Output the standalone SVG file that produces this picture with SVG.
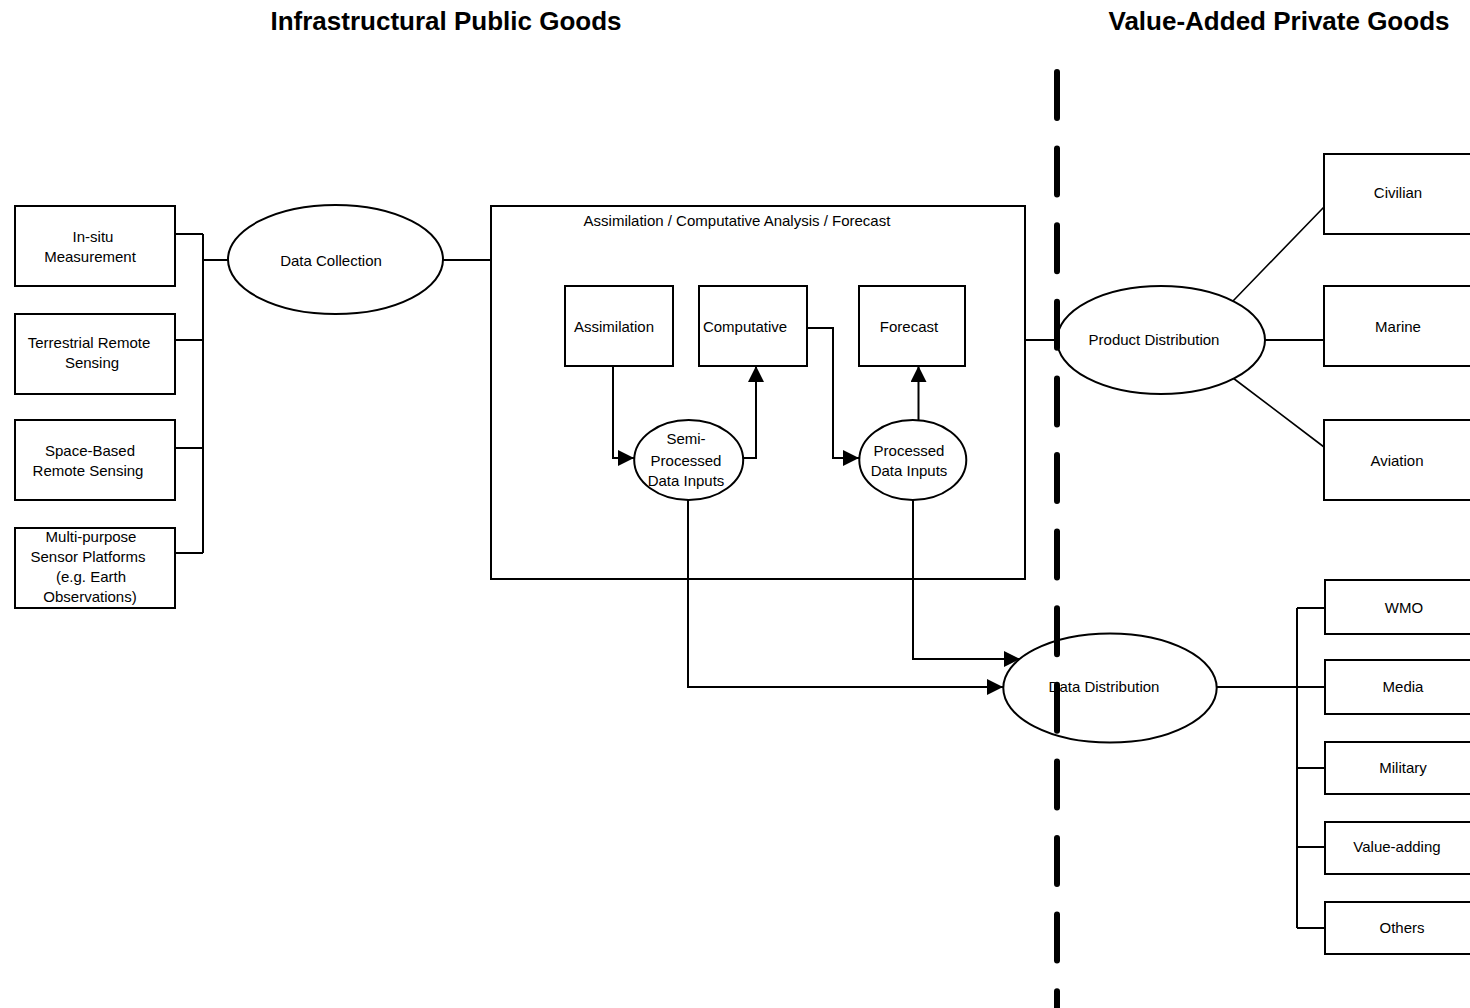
<svg xmlns="http://www.w3.org/2000/svg" width="1470" height="1008" viewBox="0 0 1470 1008">
<defs>
<marker id="arr" viewBox="0 0 16 16" refX="16" refY="8" markerWidth="16" markerHeight="16" markerUnits="userSpaceOnUse" orient="auto"><path d="M0,0 L16,8 L0,16 z" fill="#000"/></marker>
<style>
.box{fill:#fff;stroke:#000;stroke-width:2}
.ell{fill:#fff;stroke:#000;stroke-width:2}
.c{fill:none;stroke:#000;stroke-width:2}
.d{fill:none;stroke:#000;stroke-width:1.6}
text{font-family:"Liberation Sans",Arial,sans-serif;font-size:15px;fill:#000;text-anchor:middle}
.title{font-size:26px;font-weight:bold}
.divider{fill:none;stroke:#000;stroke-width:6;stroke-linecap:round;stroke-dasharray:46 30.6}
</style>
</defs>
<rect width="1470" height="1008" fill="#fff"/>

<text class="title" x="446" y="30">Infrastructural Public Goods</text>
<text class="title" x="1279" y="30">Value-Added Private Goods</text>

<g id="connectors">
<path class="c" d="M175,234 H203 M175,340 H203 M175,448 H203 M175,553 H203 M203,234 V553 M203,260 H228"/>
<path class="c" d="M443,260 H491"/>
<path class="c" d="M1025,340 H1057"/>
<path class="c" d="M613,366 V458 H634" marker-end="url(#arr)"/>
<path class="c" d="M743,458 H756 V366" marker-end="url(#arr)"/>
<path class="c" d="M807,328 H833 V458 H859" marker-end="url(#arr)"/>
<path class="c" d="M918.5,420 V366" marker-end="url(#arr)"/>
<path class="c" d="M688,500 V687 H1003" marker-end="url(#arr)"/>
<path class="c" d="M913,500 V659 H1020" marker-end="url(#arr)"/>
<path class="d" d="M1233,301 L1324,207 M1233,378 L1324,447"/>
<path class="c" d="M1265,340 H1324"/>
<path class="c" d="M1217,687 H1297 M1297,608 V928 M1297,608 H1325 M1297,687 H1325 M1297,768 H1325 M1297,847 H1325 M1297,928 H1325"/>
</g>

<g id="n-insitu"><rect class="box" x="15" y="206" width="160" height="80"/><text x="93" y="242">In-situ</text><text x="90" y="262">Measurement</text></g>
<g id="n-terrestrial"><rect class="box" x="15" y="314" width="160" height="80"/><text x="89" y="348">Terrestrial Remote</text><text x="92" y="368">Sensing</text></g>
<g id="n-space"><rect class="box" x="15" y="420" width="160" height="80"/><text x="90" y="456">Space-Based</text><text x="88" y="476">Remote Sensing</text></g>
<g id="n-multi"><rect class="box" x="15" y="528" width="160" height="80"/><text x="91" y="542">Multi-purpose</text><text x="88" y="562">Sensor Platforms</text><text x="91" y="582">(e.g. Earth</text><text x="90" y="602">Observations)</text></g>

<g id="n-datacollection"><ellipse class="ell" cx="335.5" cy="259.5" rx="107.5" ry="54.5"/><text x="331" y="266">Data Collection</text></g>

<g id="n-analysis"><rect class="c" x="491" y="206" width="534" height="373"/><text x="737" y="226">Assimilation / Computative Analysis / Forecast</text></g>
<g id="n-assimilation"><rect class="box" x="565" y="286" width="108" height="80"/><text x="614" y="332">Assimilation</text></g>
<g id="n-computative"><rect class="box" x="699" y="286" width="108" height="80"/><text x="745" y="332">Computative</text></g>
<g id="n-forecast"><rect class="box" x="859" y="286" width="106" height="80"/><text x="909" y="332">Forecast</text></g>
<g id="n-semi"><ellipse class="ell" cx="688.7" cy="460" rx="54.5" ry="40"/><text x="686" y="444">Semi-</text><text x="686" y="466">Processed</text><text x="686" y="486">Data Inputs</text></g>
<g id="n-processed"><ellipse class="ell" cx="912.8" cy="460" rx="53.5" ry="40"/><text x="909" y="456">Processed</text><text x="909" y="476">Data Inputs</text></g>

<g id="n-productdist"><ellipse class="ell" cx="1161" cy="340" rx="104" ry="54"/></g>
<g id="n-datadist"><ellipse class="ell" cx="1110" cy="688" rx="106.7" ry="54.5"/></g>

<g id="n-civilian"><rect class="box" x="1324" y="154" width="160" height="80"/><text x="1398" y="198">Civilian</text></g>
<g id="n-marine"><rect class="box" x="1324" y="286" width="160" height="80"/><text x="1398" y="332">Marine</text></g>
<g id="n-aviation"><rect class="box" x="1324" y="420" width="160" height="80"/><text x="1397" y="466">Aviation</text></g>

<g id="n-wmo"><rect class="box" x="1325" y="580" width="160" height="54"/><text x="1404" y="613">WMO</text></g>
<g id="n-media"><rect class="box" x="1325" y="660" width="160" height="54"/><text x="1403" y="692">Media</text></g>
<g id="n-military"><rect class="box" x="1325" y="742" width="160" height="52"/><text x="1403" y="773">Military</text></g>
<g id="n-valueadding"><rect class="box" x="1325" y="822" width="160" height="52"/><text x="1397" y="852">Value-adding</text></g>
<g id="n-others"><rect class="box" x="1325" y="902" width="160" height="52"/><text x="1402" y="933">Others</text></g>

<path id="divider" class="divider" d="M1057,72 V1030"/>

<g id="labels-over-divider">
<text x="1154" y="345">Product Distribution</text>
<text x="1104" y="692">Data Distribution</text>
</g>
</svg>
